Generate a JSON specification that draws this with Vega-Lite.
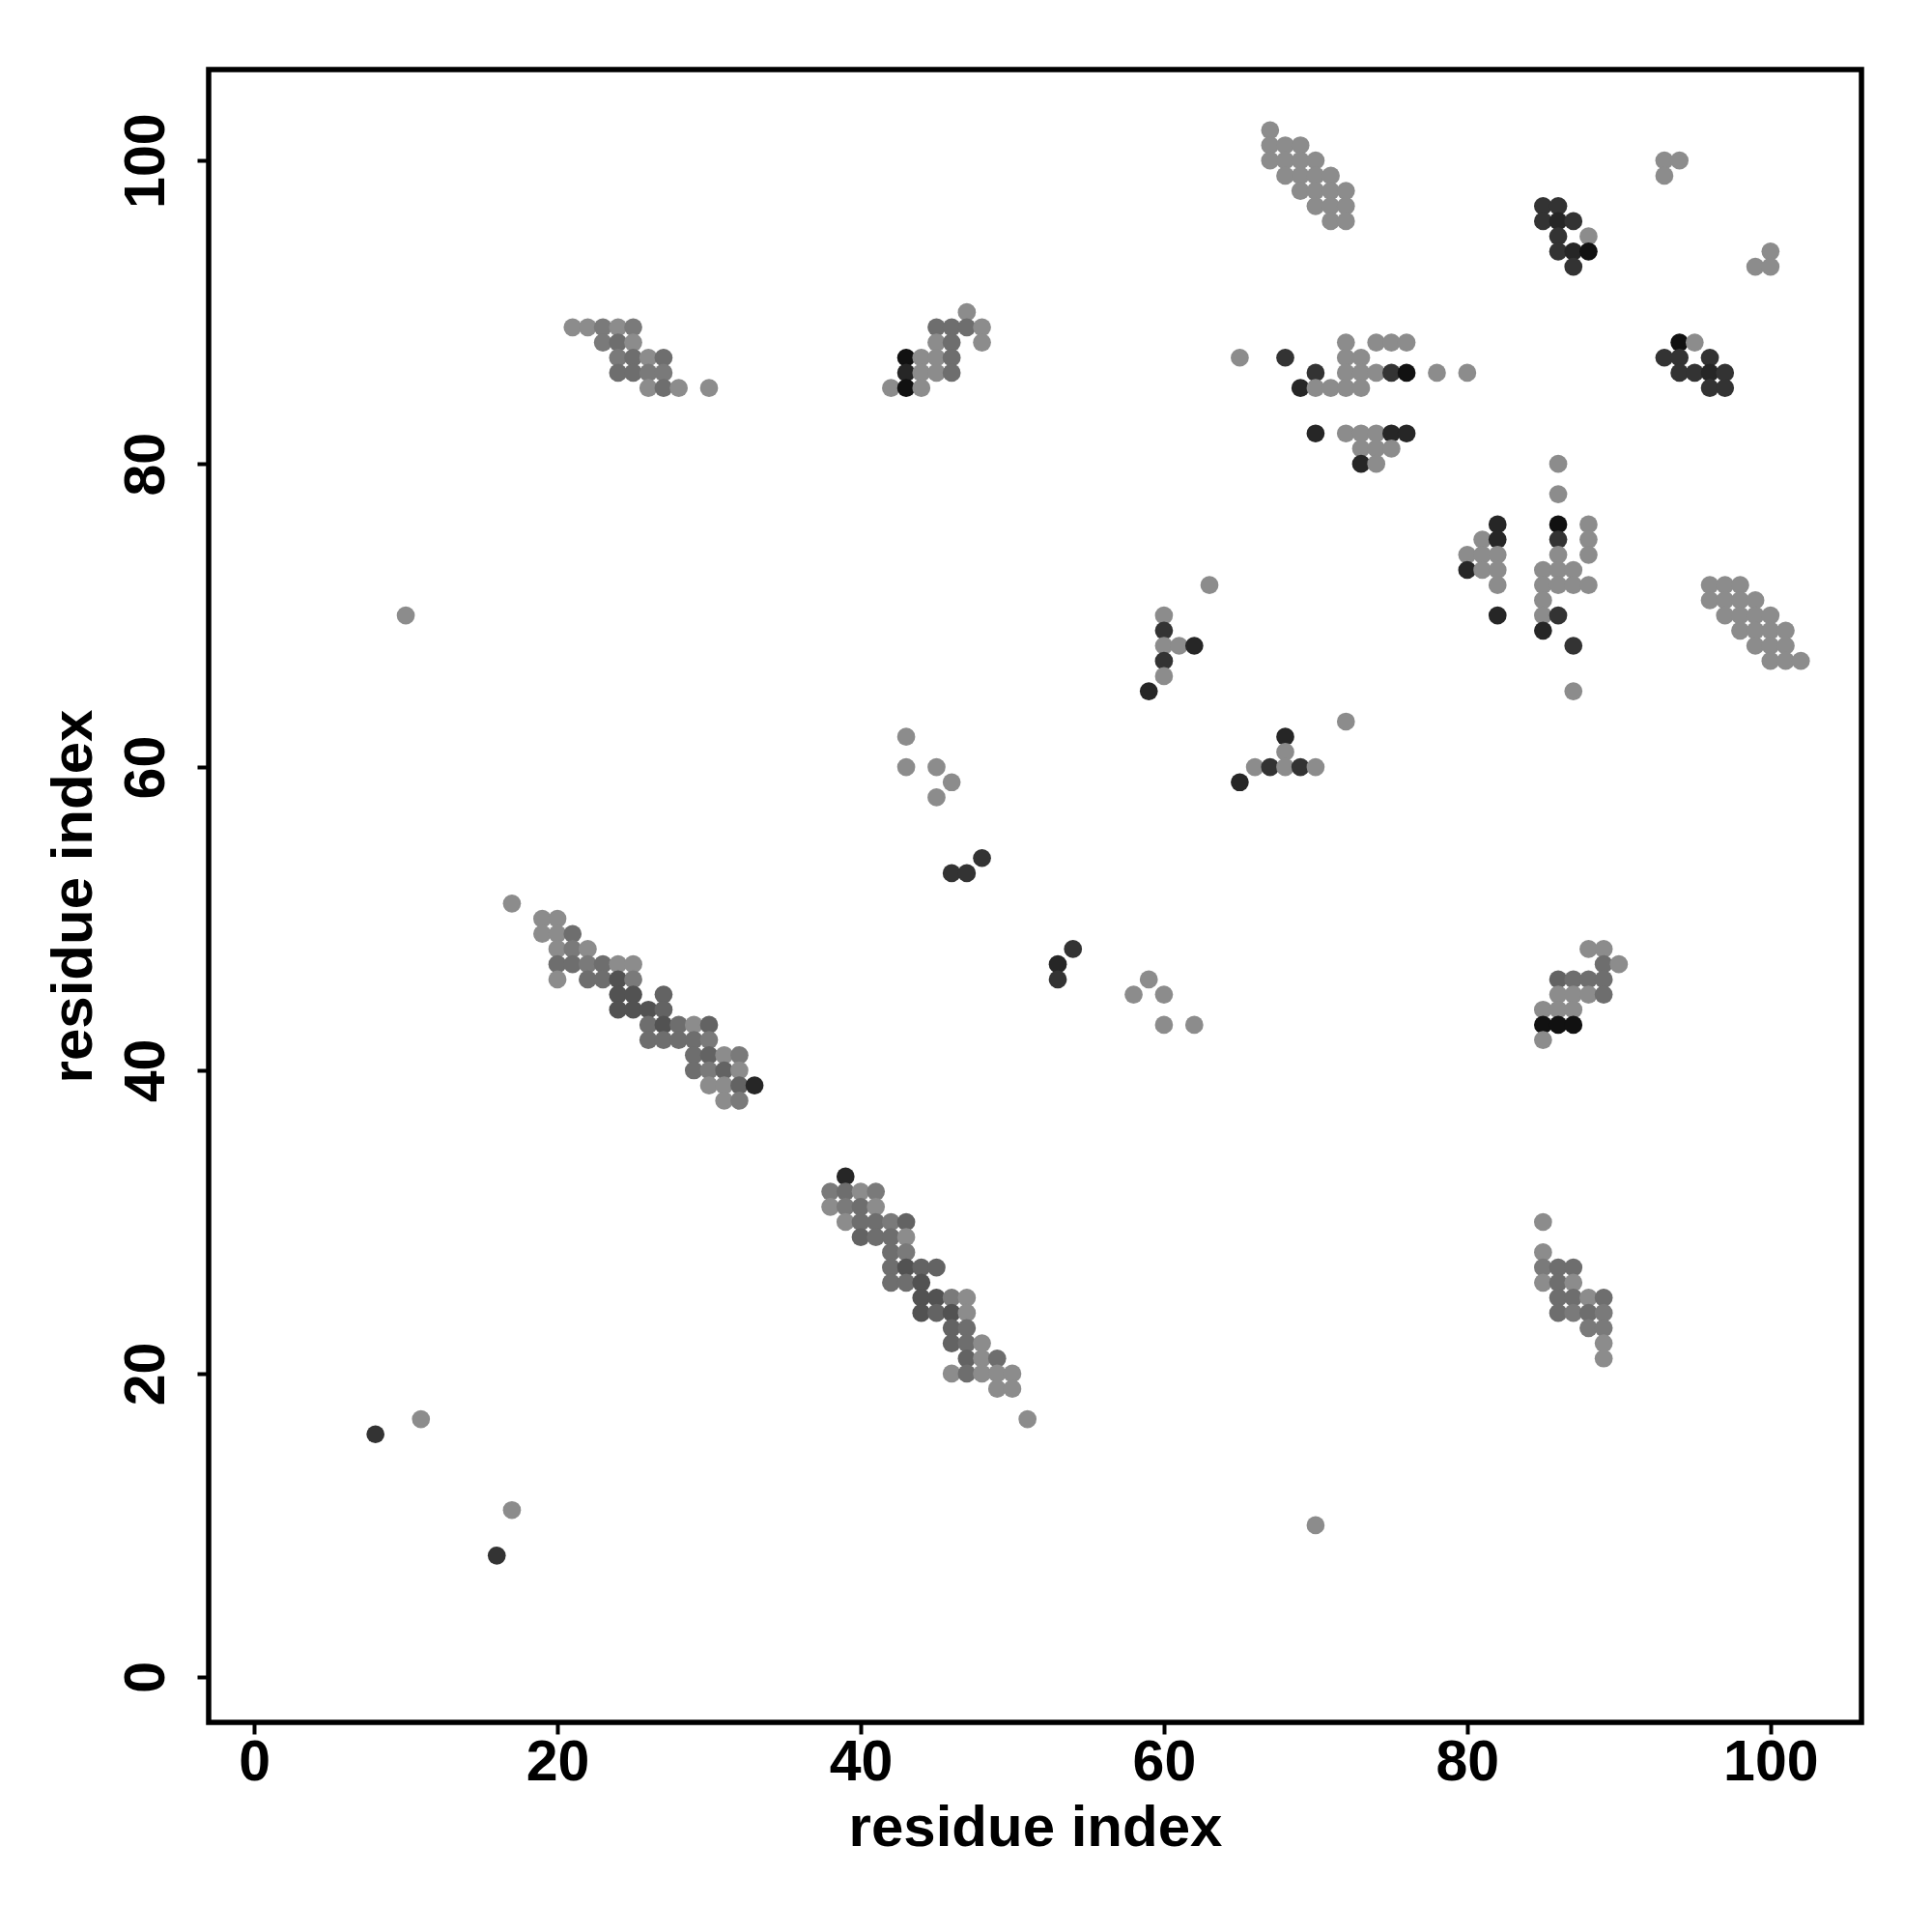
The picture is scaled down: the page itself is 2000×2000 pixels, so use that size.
{
  "$schema": "https://vega.github.io/schema/vega-lite/v6.json",
  "width": 1711,
  "height": 1711,
  "autosize": {"type": "none"},
  "padding": {"left": 216, "top": 72, "right": 73, "bottom": 217},
  "background": "white",
  "config": {
    "view": {"stroke": "black", "strokeWidth": 5.5},
    "font": "Liberation Sans"
  },
  "data": {"values": [
    {"x":21,"y":89,"n":1},{"x":22,"y":89,"n":1},{"x":23,"y":89,"n":2},{"x":24,"y":89,"n":1},{"x":25,"y":89,"n":2},
    {"x":23,"y":88,"n":2},{"x":24,"y":88,"n":3},{"x":25,"y":88,"n":1},
    {"x":24,"y":87,"n":2},{"x":25,"y":87,"n":3},{"x":26,"y":87,"n":1},{"x":27,"y":87,"n":3},
    {"x":24,"y":86,"n":3},{"x":25,"y":86,"n":3},{"x":26,"y":86,"n":2},{"x":27,"y":86,"n":2},
    {"x":26,"y":85,"n":1},{"x":27,"y":85,"n":3},{"x":28,"y":85,"n":1},{"x":30,"y":85,"n":1},

    {"x":47,"y":90,"n":1},
    {"x":45,"y":89,"n":3},{"x":46,"y":89,"n":3},{"x":47,"y":89,"n":3},{"x":48,"y":89,"n":1},
    {"x":45,"y":88,"n":1},{"x":46,"y":88,"n":3},{"x":48,"y":88,"n":1},
    {"x":43,"y":87,"n":8},{"x":44,"y":87,"n":1},{"x":45,"y":87,"n":1},{"x":46,"y":87,"n":3},
    {"x":43,"y":86,"n":7},{"x":44,"y":86,"n":1},{"x":45,"y":86,"n":1},{"x":46,"y":86,"n":3},
    {"x":42,"y":85,"n":1},{"x":43,"y":85,"n":8},{"x":44,"y":85,"n":1},

    {"x":67,"y":102,"n":1},
    {"x":67,"y":101,"n":1},{"x":68,"y":101,"n":1},{"x":69,"y":101,"n":1},
    {"x":67,"y":100,"n":1},{"x":68,"y":100,"n":1},{"x":69,"y":100,"n":1},{"x":70,"y":100,"n":1},
    {"x":68,"y":99,"n":1},{"x":69,"y":99,"n":1},{"x":70,"y":99,"n":1},{"x":71,"y":99,"n":1},
    {"x":69,"y":98,"n":1},{"x":70,"y":98,"n":1},{"x":71,"y":98,"n":1},{"x":72,"y":98,"n":1},
    {"x":70,"y":97,"n":1},{"x":71,"y":97,"n":1},{"x":72,"y":97,"n":1},
    {"x":71,"y":96,"n":1},{"x":72,"y":96,"n":1},

    {"x":72,"y":88,"n":1},{"x":74,"y":88,"n":1},{"x":75,"y":88,"n":1},{"x":76,"y":88,"n":1},
    {"x":65,"y":87,"n":1},{"x":68,"y":87,"n":6},{"x":72,"y":87,"n":1},{"x":73,"y":87,"n":1},
    {"x":70,"y":86,"n":6},{"x":72,"y":86,"n":1},{"x":73,"y":86,"n":1},{"x":74,"y":86,"n":1},{"x":75,"y":86,"n":6},{"x":76,"y":86,"n":8},{"x":78,"y":86,"n":1},{"x":80,"y":86,"n":1},
    {"x":69,"y":85,"n":7},{"x":70,"y":85,"n":1},{"x":71,"y":85,"n":1},{"x":72,"y":85,"n":1},{"x":73,"y":85,"n":1},
    {"x":70,"y":82,"n":7},{"x":72,"y":82,"n":1},{"x":73,"y":82,"n":1},{"x":74,"y":82,"n":1},{"x":75,"y":82,"n":7},{"x":76,"y":82,"n":7},
    {"x":73,"y":81,"n":1},{"x":74,"y":81,"n":1},{"x":75,"y":81,"n":1},
    {"x":73,"y":80,"n":7},{"x":74,"y":80,"n":1},

    {"x":93,"y":100,"n":1},{"x":94,"y":100,"n":1},{"x":93,"y":99,"n":1},
    {"x":85,"y":97,"n":6},{"x":86,"y":97,"n":6},
    {"x":85,"y":96,"n":6},{"x":86,"y":96,"n":7},{"x":87,"y":96,"n":6},
    {"x":86,"y":95,"n":6},{"x":88,"y":95,"n":1},
    {"x":86,"y":94,"n":6},{"x":87,"y":94,"n":7},{"x":88,"y":94,"n":8},
    {"x":87,"y":93,"n":6},
    {"x":100,"y":94,"n":1},{"x":99,"y":93,"n":1},{"x":100,"y":93,"n":1},
    {"x":94,"y":88,"n":8},{"x":95,"y":88,"n":1},
    {"x":93,"y":87,"n":6},{"x":94,"y":87,"n":6},{"x":96,"y":87,"n":6},
    {"x":94,"y":86,"n":6},{"x":95,"y":86,"n":6},{"x":96,"y":86,"n":7},{"x":97,"y":86,"n":6},
    {"x":96,"y":85,"n":6},{"x":97,"y":85,"n":6},

    {"x":86,"y":80,"n":1},{"x":86,"y":78,"n":1},
    {"x":82,"y":76,"n":7},{"x":86,"y":76,"n":8},{"x":88,"y":76,"n":1},
    {"x":81,"y":75,"n":1},{"x":82,"y":75,"n":7},{"x":86,"y":75,"n":6},{"x":88,"y":75,"n":1},
    {"x":80,"y":74,"n":1},{"x":81,"y":74,"n":1},{"x":82,"y":74,"n":1},{"x":86,"y":74,"n":1},{"x":88,"y":74,"n":1},
    {"x":80,"y":73,"n":7},{"x":81,"y":73,"n":1},{"x":82,"y":73,"n":1},{"x":85,"y":73,"n":1},{"x":86,"y":73,"n":1},{"x":87,"y":73,"n":1},
    {"x":82,"y":72,"n":1},{"x":85,"y":72,"n":1},{"x":86,"y":72,"n":1},{"x":87,"y":72,"n":1},{"x":88,"y":72,"n":1},
    {"x":85,"y":71,"n":1},
    {"x":82,"y":70,"n":7},{"x":85,"y":70,"n":1},{"x":86,"y":70,"n":6},
    {"x":85,"y":69,"n":7},
    {"x":87,"y":68,"n":6},
    {"x":87,"y":65,"n":1},

    {"x":96,"y":72,"n":1},{"x":97,"y":72,"n":1},{"x":98,"y":72,"n":1},
    {"x":96,"y":71,"n":1},{"x":97,"y":71,"n":1},{"x":98,"y":71,"n":1},{"x":99,"y":71,"n":1},
    {"x":97,"y":70,"n":1},{"x":98,"y":70,"n":1},{"x":99,"y":70,"n":1},{"x":100,"y":70,"n":1},
    {"x":98,"y":69,"n":1},{"x":99,"y":69,"n":1},{"x":100,"y":69,"n":1},{"x":101,"y":69,"n":1},
    {"x":99,"y":68,"n":1},{"x":100,"y":68,"n":1},{"x":101,"y":68,"n":1},
    {"x":100,"y":67,"n":1},{"x":101,"y":67,"n":1},{"x":102,"y":67,"n":1},

    {"x":63,"y":72,"n":1},{"x":60,"y":70,"n":1},{"x":60,"y":69,"n":6},{"x":60,"y":68,"n":1},{"x":61,"y":68,"n":1},{"x":62,"y":68,"n":7},{"x":60,"y":67,"n":6},{"x":60,"y":66,"n":1},{"x":59,"y":65,"n":7},
    {"x":72,"y":63,"n":1},{"x":68,"y":62,"n":7},{"x":68,"y":61,"n":1},{"x":66,"y":60,"n":1},{"x":67,"y":60,"n":6},{"x":68,"y":60,"n":1},{"x":69,"y":60,"n":6},{"x":70,"y":60,"n":1},{"x":65,"y":59,"n":7},
    {"x":43,"y":62,"n":1},{"x":43,"y":60,"n":1},{"x":45,"y":60,"n":1},{"x":46,"y":59,"n":1},{"x":45,"y":58,"n":1},
    {"x":48,"y":54,"n":6},{"x":46,"y":53,"n":6},{"x":47,"y":53,"n":6},
    {"x":54,"y":48,"n":6},{"x":53,"y":47,"n":7},{"x":53,"y":46,"n":6},{"x":59,"y":46,"n":1},{"x":58,"y":45,"n":1},{"x":60,"y":45,"n":1},{"x":60,"y":43,"n":1},{"x":62,"y":43,"n":1},

    {"x":17,"y":51,"n":1},
    {"x":19,"y":50,"n":1},{"x":20,"y":50,"n":1},
    {"x":19,"y":49,"n":1},{"x":20,"y":49,"n":1},{"x":21,"y":49,"n":3},
    {"x":20,"y":48,"n":1},{"x":21,"y":48,"n":2},{"x":22,"y":48,"n":1},
    {"x":20,"y":47,"n":3},{"x":21,"y":47,"n":3},{"x":22,"y":47,"n":2},{"x":23,"y":47,"n":3},{"x":24,"y":47,"n":1},{"x":25,"y":47,"n":1},
    {"x":20,"y":46,"n":1},{"x":22,"y":46,"n":3},{"x":23,"y":46,"n":3},{"x":24,"y":46,"n":5},{"x":25,"y":46,"n":2},
    {"x":24,"y":45,"n":5},{"x":25,"y":45,"n":5},{"x":27,"y":45,"n":4},
    {"x":24,"y":44,"n":5},{"x":25,"y":44,"n":5},{"x":26,"y":44,"n":5},{"x":27,"y":44,"n":4},
    {"x":26,"y":43,"n":3},{"x":27,"y":43,"n":5},{"x":28,"y":43,"n":3},{"x":29,"y":43,"n":1},{"x":30,"y":43,"n":4},
    {"x":26,"y":42,"n":3},{"x":27,"y":42,"n":3},{"x":28,"y":42,"n":3},{"x":29,"y":42,"n":3},{"x":30,"y":42,"n":2},
    {"x":29,"y":41,"n":3},{"x":30,"y":41,"n":4},{"x":31,"y":41,"n":1},{"x":32,"y":41,"n":2},
    {"x":29,"y":40,"n":3},{"x":30,"y":40,"n":2},{"x":31,"y":40,"n":4},{"x":32,"y":40,"n":1},
    {"x":30,"y":39,"n":1},{"x":31,"y":39,"n":1},{"x":32,"y":39,"n":4},{"x":33,"y":39,"n":7},
    {"x":31,"y":38,"n":1},{"x":32,"y":38,"n":2},

    {"x":39,"y":33,"n":7},
    {"x":38,"y":32,"n":2},{"x":39,"y":32,"n":3},{"x":40,"y":32,"n":1},{"x":41,"y":32,"n":2},
    {"x":38,"y":31,"n":1},{"x":39,"y":31,"n":2},{"x":40,"y":31,"n":3},{"x":41,"y":31,"n":1},
    {"x":39,"y":30,"n":1},{"x":40,"y":30,"n":3},{"x":41,"y":30,"n":3},{"x":42,"y":30,"n":2},{"x":43,"y":30,"n":4},
    {"x":40,"y":29,"n":4},{"x":41,"y":29,"n":3},{"x":42,"y":29,"n":3},{"x":43,"y":29,"n":1},
    {"x":42,"y":28,"n":3},{"x":43,"y":28,"n":2},
    {"x":42,"y":27,"n":3},{"x":43,"y":27,"n":5},{"x":44,"y":27,"n":4},{"x":45,"y":27,"n":4},
    {"x":42,"y":26,"n":3},{"x":43,"y":26,"n":3},{"x":44,"y":26,"n":5},
    {"x":44,"y":25,"n":5},{"x":45,"y":25,"n":5},{"x":46,"y":25,"n":2},{"x":47,"y":25,"n":1},
    {"x":44,"y":24,"n":5},{"x":45,"y":24,"n":4},{"x":46,"y":24,"n":5},{"x":47,"y":24,"n":1},
    {"x":46,"y":23,"n":4},{"x":47,"y":23,"n":3},
    {"x":46,"y":22,"n":4},{"x":47,"y":22,"n":3},{"x":48,"y":22,"n":1},
    {"x":47,"y":21,"n":4},{"x":48,"y":21,"n":1},{"x":49,"y":21,"n":3},
    {"x":46,"y":20,"n":1},{"x":47,"y":20,"n":3},{"x":48,"y":20,"n":1},{"x":49,"y":20,"n":1},{"x":50,"y":20,"n":1},
    {"x":49,"y":19,"n":1},{"x":50,"y":19,"n":1},
    {"x":51,"y":17,"n":1},

    {"x":88,"y":48,"n":1},{"x":89,"y":48,"n":1},
    {"x":89,"y":47,"n":3},{"x":90,"y":47,"n":1},
    {"x":86,"y":46,"n":4},{"x":87,"y":46,"n":3},{"x":88,"y":46,"n":3},{"x":89,"y":46,"n":3},
    {"x":86,"y":45,"n":1},{"x":87,"y":45,"n":1},{"x":88,"y":45,"n":1},{"x":89,"y":45,"n":3},
    {"x":85,"y":44,"n":1},{"x":86,"y":44,"n":1},{"x":87,"y":44,"n":1},
    {"x":85,"y":43,"n":8},{"x":86,"y":43,"n":8},{"x":87,"y":43,"n":8},
    {"x":85,"y":42,"n":1},
    {"x":85,"y":30,"n":1},{"x":85,"y":28,"n":1},
    {"x":85,"y":27,"n":2},{"x":86,"y":27,"n":3},{"x":87,"y":27,"n":3},
    {"x":85,"y":26,"n":1},{"x":86,"y":26,"n":3},{"x":87,"y":26,"n":1},
    {"x":86,"y":25,"n":3},{"x":87,"y":25,"n":3},{"x":88,"y":25,"n":1},{"x":89,"y":25,"n":3},
    {"x":86,"y":24,"n":3},{"x":87,"y":24,"n":2},{"x":88,"y":24,"n":3},{"x":89,"y":24,"n":2},
    {"x":88,"y":23,"n":2},{"x":89,"y":23,"n":2},
    {"x":89,"y":22,"n":1},{"x":89,"y":21,"n":1},

    {"x":11,"y":17,"n":1},{"x":8,"y":16,"n":6},{"x":17,"y":11,"n":1},{"x":16,"y":8,"n":6},{"x":10,"y":70,"n":1},{"x":70,"y":10,"n":1}
  ]},
  "mark": {"type": "circle", "size": 350, "opacity": 1},
  "encoding": {
    "x": {
      "field": "x", "type": "quantitative",
      "scale": {"domain": [-3, 106], "nice": false, "zero": false},
      "axis": {
        "values": [0, 20, 40, 60, 80, 100],
        "title": "residue index",
        "grid": false, "domain": false,
        "tickColor": "black", "tickWidth": 4, "tickSize": 12,
        "labelFontSize": 59, "labelFontWeight": "bold", "labelColor": "black",
        "labelBaseline": "alphabetic", "labelPadding": 47,
        "labelFlush": false, "labelOverlap": false,
        "titleFontSize": 60, "titleFontWeight": "bold", "titleColor": "black",
        "titleBaseline": "alphabetic", "titleY": 127
      }
    },
    "y": {
      "field": "y", "type": "quantitative",
      "scale": {"domain": [-3, 106], "nice": false, "zero": false},
      "axis": {
        "values": [0, 20, 40, 60, 80, 100],
        "title": "residue index",
        "grid": false, "domain": false,
        "tickColor": "black", "tickWidth": 4, "tickSize": 12,
        "labelFontSize": 59, "labelFontWeight": "bold", "labelColor": "black",
        "labelAngle": 270, "labelAlign": "center", "labelBaseline": "alphabetic", "labelPadding": 35,
        "labelFlush": false, "labelOverlap": false,
        "titleFontSize": 60, "titleFontWeight": "bold", "titleColor": "black",
        "titleAngle": 270, "titleBaseline": "alphabetic", "titleX": -122
      }
    },
    "color": {
      "field": "n", "type": "ordinal",
      "scale": {"domain": [1, 2, 3, 4, 5, 6, 7, 8], "range": ["#8c8c8c", "#7a7a7a", "#6e6e6e", "#636363", "#525252", "#333333", "#262626", "#111111"]},
      "legend": null
    }
  }
}
